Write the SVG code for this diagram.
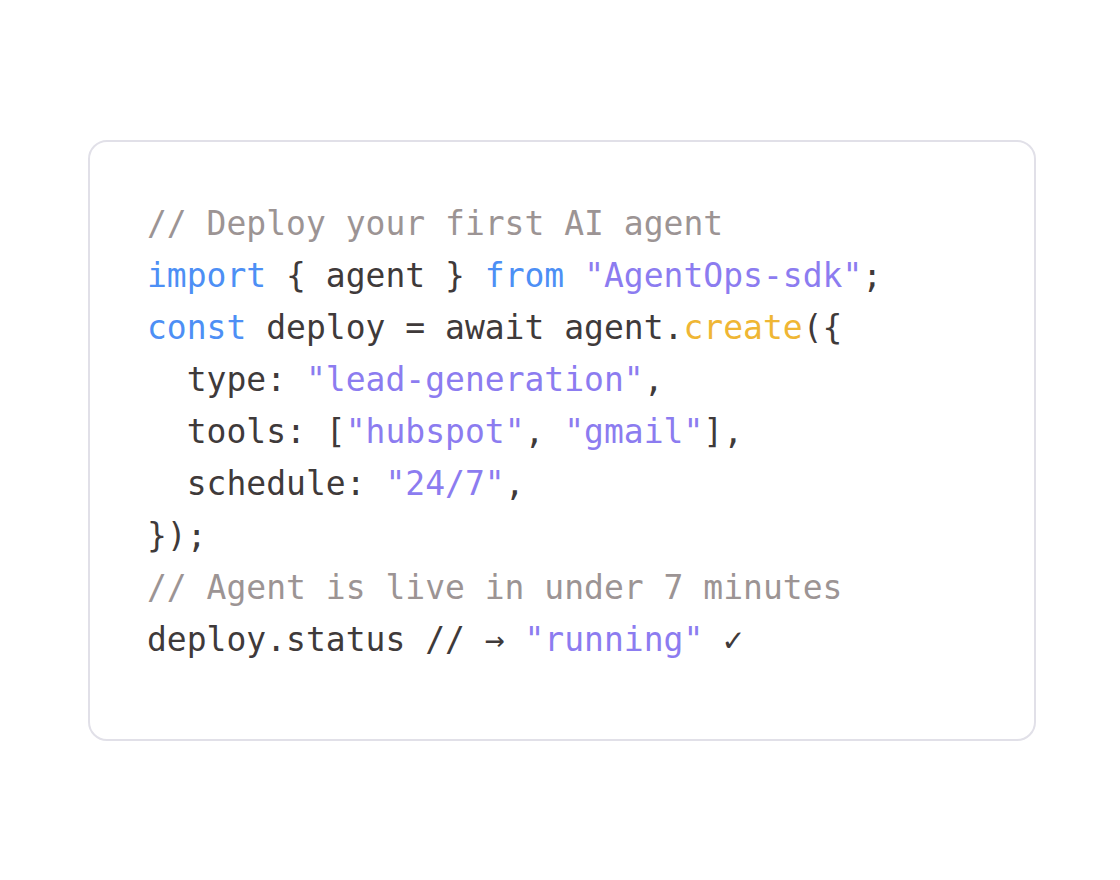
<svg xmlns="http://www.w3.org/2000/svg" width="1120" height="880" viewBox="0 0 1120 880">
<style>
text{font-family:"DejaVu Sans Mono","Liberation Mono",monospace;font-size:33px;fill:#3f3a3a;white-space:pre}
.c{fill:#9c9494}.k{fill:#4d8ff5}.s{fill:#8c7cf0}.y{fill:#efb634}
</style>
<rect width="1120" height="880" fill="#fff"/>
<g id="card"><rect x="89" y="141" width="946" height="599" rx="18" fill="#fff" stroke="#e1e0e8" stroke-width="2"/></g>
<g id="code" xml:space="preserve">
<text x="147" y="235" class="c">// Deploy your first AI agent</text>
<text x="147" y="287"><tspan class="k">import</tspan> { agent } <tspan class="k">from</tspan> <tspan class="s">"AgentOps-sdk"</tspan>;</text>
<text x="147" y="339"><tspan class="k">const</tspan> deploy = await agent.<tspan class="y">create</tspan>({</text>
<text x="147" y="391">  type: <tspan class="s">"lead-generation"</tspan>,</text>
<text x="147" y="443">  tools: [<tspan class="s">"hubspot"</tspan>, <tspan class="s">"gmail"</tspan>],</text>
<text x="147" y="495">  schedule: <tspan class="s">"24/7"</tspan>,</text>
<text x="147" y="547">});</text>
<text x="147" y="599" class="c">// Agent is live in under 7 minutes</text>
<text x="147" y="651">deploy.status // → <tspan class="s">"running"</tspan> ✓</text>
</g>
</svg>
